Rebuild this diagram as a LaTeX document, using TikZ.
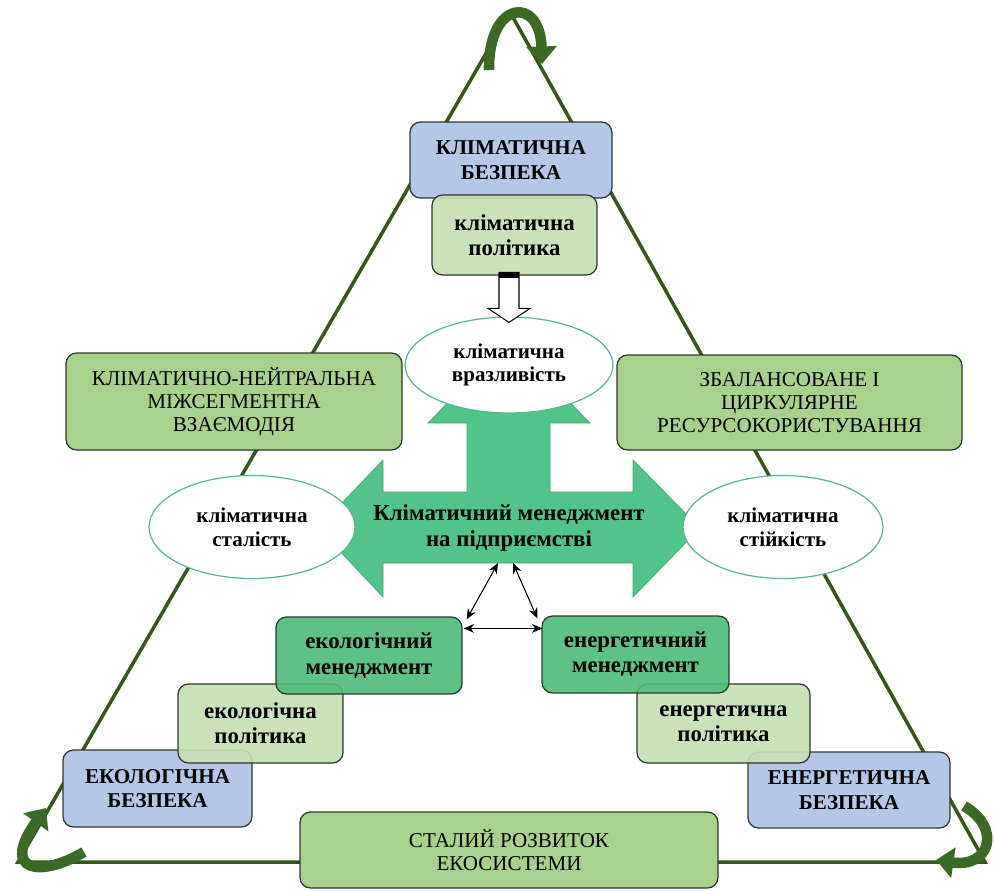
\documentclass[tikz,border=0pt]{standalone}
\usepackage{fontspec}
\setmainfont{Liberation Serif}
\usetikzlibrary{arrows.meta,calc,positioning,shapes.geometric}
\definecolor{FrameGreen}{RGB}{55,86,28}
\definecolor{CurlGreen}{RGB}{58,106,38}
\definecolor{SafetyBlue}{RGB}{180,199,231}
\definecolor{PolicyGreen}{RGB}{197,224,180}
\definecolor{GoalGreen}{RGB}{169,209,142}
\definecolor{MgmtGreen}{RGB}{76,187,122}
\definecolor{CoreGreen}{RGB}{82,196,137}
\definecolor{RimTeal}{RGB}{90,181,151}
\definecolor{BoxEdge}{RGB}{45,55,45}
\newcommand{\PlaceBox}[7]{%
  % #1 name, #2 style, #3 left, #4 top, #5 right, #6 bottom, #7 text
  \pgfmathsetmacro{\BoxW}{(#5-#3)*0.02}%
  \pgfmathsetmacro{\BoxH}{(#6-#4)*0.02}%
  \node[#2,minimum width=\BoxW cm,minimum height=\BoxH cm] (#1) at ({(#3+#5)/2},{(#4+#6)/2}) {#7};
}

\begin{document}
\begin{tikzpicture}[
  x=0.02cm, y=-0.02cm,
  panel/.style={draw=BoxEdge,line width=0.7pt,rounded corners=6pt,align=center,inner sep=2pt},
  safety/.style={panel,fill=SafetyBlue,font=\fontsize{12}{14}\selectfont\bfseries},
  policy/.style={panel,fill=PolicyGreen,fill opacity=0.92,text opacity=1,font=\fontsize{13}{14.3}\selectfont\bfseries},
  mgmtbox/.style={panel,fill=MgmtGreen,fill opacity=0.9,text opacity=1,font=\fontsize{13}{14.3}\selectfont\bfseries},
  goal/.style={panel,fill=GoalGreen,font=\fontsize{12}{13.2}\selectfont},
  oval/.style={ellipse,draw=RimTeal,line width=0.7pt,fill=white,inner sep=0pt,align=center,font=\fontsize{12}{13.5}\selectfont\bfseries},
  triline/.style={draw=FrameGreen,line width=2pt},
  curl/.style={draw=CurlGreen,line width=6pt,-{Triangle[length=10pt,width=17pt]}},
  hollow/.style={draw=black,line width=0.6pt,fill=white},
  link/.style={black,line width=0.6pt,{Stealth[length=6pt,width=5pt]}-{Stealth[length=6pt,width=5pt]}}
]
\useasboundingbox (0,0) rectangle (994,890);

% Outer triangle
\coordinate (apex) at (510,12);
\coordinate (cornerL) at (18,862);
\coordinate (cornerR) at (985,862);
\draw[triline] (apex) -- (cornerL) -- (cornerR) -- cycle;

% Curved arrows at the corners
\draw[curl] (489,70) .. controls (488,0) and (540,-5) .. (542,64);
\draw[curl] (84,852) .. controls (40,878) and (0,872) .. (46,808);
\draw[curl] (964,806) .. controls (1002,828) and (990,868) .. (936,860);

% Goal boxes
\PlaceBox{neutral}{goal}{66}{353}{402}{450}{КЛІМАТИЧНО-НЕЙТРАЛЬНА\\МІЖСЕГМЕНТНА\\ВЗАЄМОДІЯ}
\PlaceBox{circular}{goal}{617}{355}{962}{450}{ЗБАЛАНСОВАНЕ І\\ЦИРКУЛЯРНЕ\\РЕСУРСОКОРИСТУВАННЯ}
\PlaceBox{ecosys}{goal}{300}{812}{718}{888}{СТАЛИЙ РОЗВИТОК\\ЕКОСИСТЕМИ}

% Climate block
\PlaceBox{climsafe}{safety}{410}{122}{612}{198}{КЛІМАТИЧНА\\БЕЗПЕКА}
\PlaceBox{climpol}{policy}{432}{195}{597}{275}{кліматична\\політика}

% Central cross arrow
\draw[fill=CoreGreen,draw=CoreGreen!85!black,line width=0.4pt]
  (509,340) -- (590,423) -- (550,423) -- (550,492) -- (633,492) -- (633,460)
  -- (700,528) -- (633,597) -- (633,563) -- (383,563) -- (383,597) -- (318,528)
  -- (383,460) -- (383,492) -- (467,492) -- (467,423) -- (428,423) -- cycle;
\coordinate (coreL) at (498,563);
\coordinate (coreR) at (513,563);
\node[font=\fontsize{13}{15}\selectfont\bfseries,align=center] (core) at (509,528) {Кліматичний менеджмент\\на підприємстві};

% Ellipses
\node[oval,minimum width=4.16cm,minimum height=1.92cm] (vuln) at (509,365) {кліматична\\вразливість};
\node[oval,minimum width=4.12cm,minimum height=2.06cm] (steady) at (252,527) {кліматична\\сталість};
\node[oval,minimum width=4.0cm,minimum height=2.06cm] (stable) at (783,527) {кліматична\\стійкість};

% Hollow arrow from policy to vulnerability
\draw[hollow] ($(vuln.north)+(-10,-44)$) -- ++(0,36) -- ++(-11,0) -- ($(vuln.north)+(0,6)$)
  -- ($(vuln.north)+(21,-8)$) -- ++(-11,0) -- ++(0,-36) -- cycle;
\fill ($(vuln.north)+(-10,-44)$) rectangle ($(vuln.north)+(10,-38)$);

% Ecological staircase
\PlaceBox{ecosafe}{safety}{63}{750}{252}{827}{ЕКОЛОГІЧНА\\БЕЗПЕКА}
\PlaceBox{ecopol}{policy}{178}{684}{343}{763}{екологічна\\політика}
\PlaceBox{ecomgmt}{mgmtbox}{276}{617}{462}{694}{екологічний\\менеджмент}

% Energy staircase
\PlaceBox{ensafe}{safety}{748}{752}{950}{828}{ЕНЕРГЕТИЧНА\\БЕЗПЕКА}
\PlaceBox{enpol}{policy}{637}{684}{810}{763}{енергетична\\політика}
\PlaceBox{enmgmt}{mgmtbox}{542}{616}{729}{693}{енергетичний\\менеджмент}

% Links between management levels
\draw[link] ($(ecomgmt.north east)+(4,3)$) -- (coreL);
\draw[link] ($(enmgmt.north west)+(-4,3)$) -- (coreR);
\draw[link] ($(ecomgmt.north east)+(1,12)$) -- ($(enmgmt.north west)+(1,13)$);

\end{tikzpicture}
\end{document}
